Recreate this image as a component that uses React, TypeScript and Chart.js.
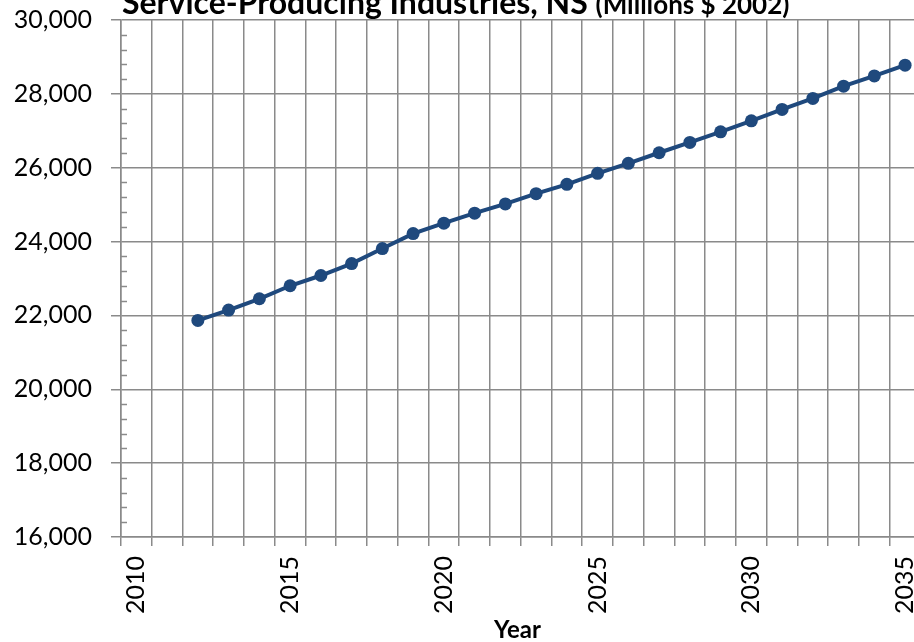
import React, { useEffect, useRef } from "react";
import { Chart, registerables } from "chart.js";

Chart.register(...registerables);

const years = [2012, 2013, 2014, 2015, 2016, 2017, 2018, 2019, 2020, 2021, 2022, 2023, 2024, 2025, 2026, 2027, 2028, 2029, 2030, 2031, 2032, 2033, 2034, 2035];
const values = [21865, 22146, 22451, 22803, 23081, 23405, 23811, 24216, 24497, 24768, 25019, 25297, 25551, 25849, 26119, 26405, 26686, 26973, 27270, 27578, 27876, 28208, 28486, 28778];
const titleMain = "Service-Producing Industries, NS ";
const titleSub = "(Millions $ 2002)";
const xTitle = "Year";
const yMin = 16000;
const yMax = 30000;
const yStep = 2000;
const yMinorStep = 400;
const xMin = 2009.5;
const xMax = 2035.29;
const xLabelEvery = 5;

const GRID = "#8a8a8a";
const LINE = "#1f497d";
const FONT = "Lato, 'Open Sans', sans-serif";

const overlay = {
  id: "overlay",
  afterDraw(chart: any) {
    const ctx = chart.ctx;
    const y = chart.scales.y;
    const area = chart.chartArea;
    ctx.save();
    ctx.strokeStyle = GRID;
    ctx.lineWidth = 1.5;
    for (let v = yMin; v <= yMax; v += yMinorStep) {
      if (v % yStep === 0) continue;
      const py = Math.round(y.getPixelForValue(v)) + 0.5;
      ctx.beginPath();
      ctx.moveTo(area.left, py);
      ctx.lineTo(area.left + 6, py);
      ctx.stroke();
    }
    ctx.fillStyle = "#000";
    ctx.textBaseline = "alphabetic";
    ctx.textAlign = "left";
    ctx.font = `bold 32px ${FONT}`;
    const x0 = 122;
    ctx.fillText(titleMain, x0, 14);
    const w = ctx.measureText(titleMain).width;
    ctx.font = `bold 26px ${FONT}`;
    ctx.fillText(titleSub, x0 + w, 14);
    ctx.restore();
  },
};

export default function App() {
  const ref = useRef<HTMLCanvasElement>(null);
  useEffect(() => {
    document.body.style.margin = "0";
    document.body.style.overflow = "hidden";
    const xTicks: number[] = [];
    for (let v = xMin; v <= xMax; v += 0.5) xTicks.push(v);
    const chart = new Chart(ref.current!, {
      type: "line",
      data: {
        datasets: [
          {
            data: years.map((yr, i) => ({ x: yr, y: values[i] })),
            borderColor: LINE,
            backgroundColor: LINE,
            borderWidth: 4,
            pointRadius: 6.5,
            pointBackgroundColor: LINE,
            pointBorderColor: LINE,
            pointBorderWidth: 0,
            tension: 0,
            clip: false,
          },
        ],
      },
      options: {
        responsive: false,
        animation: false,
        events: [],
        layout: { autoPadding: false, padding: { top: 20, left: 0, right: 0, bottom: 0 } },
        plugins: { legend: { display: false }, title: { display: false }, tooltip: { enabled: false } },
        scales: {
          x: {
            type: "linear",
            min: xMin,
            max: xMax,
            afterBuildTicks: (scale: any) => {
              scale.ticks = xTicks.map((v) => ({ value: v }));
            },
            afterFit: (scale: any) => {
              scale.height = 105;
              scale.paddingLeft = 0;
              scale.paddingRight = 0;
            },
            border: { display: true, color: GRID, width: 1.5 },
            grid: {
              color: (c: any) => (Number.isInteger(c.tick?.value) ? "rgba(0,0,0,0)" : GRID),
              tickColor: (c: any) => (Number.isInteger(c.tick?.value) ? "rgba(0,0,0,0)" : GRID),
              lineWidth: 1.5,
              tickLength: 9,
            },
            ticks: {
              autoSkip: false,
              minRotation: 90,
              maxRotation: 90,
              padding: 10,
              color: "#000",
              font: { family: FONT, size: 25 },
              callback: (v: any) => (Number.isInteger(v) && v % xLabelEvery === 0 ? String(v) : ""),
            },
            title: {
              display: true,
              text: xTitle,
              color: "#000",
              font: { family: FONT, size: 24, weight: "bold" },
              padding: { top: 0, bottom: -3 },
            },
          },
          y: {
            type: "linear",
            min: yMin,
            max: yMax,
            afterFit: (scale: any) => {
              scale.width = 121;
              scale.paddingTop = 0;
              scale.paddingBottom = 0;
            },
            border: { display: true, color: GRID, width: 1.5 },
            grid: { color: GRID, lineWidth: 1.5, tickLength: 10, tickColor: GRID },
            ticks: {
              stepSize: yStep,
              padding: 19,
              color: "#000",
              font: { family: FONT, size: 25 },
              callback: (v: any) => Number(v).toLocaleString("en-US"),
            },
          },
        },
      },
      plugins: [overlay],
    } as any);
    return () => chart.destroy();
  }, []);
  return <canvas ref={ref} width={914} height={642} style={{ display: "block" }} />;
}
